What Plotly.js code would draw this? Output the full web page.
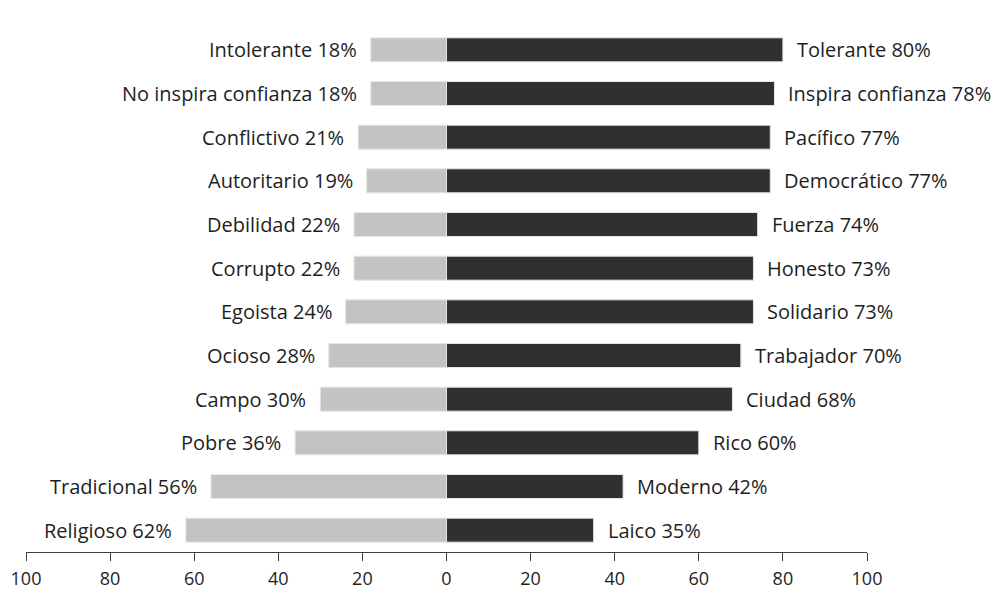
<!DOCTYPE html>
<html><head><meta charset="utf-8">
<script src="https://cdn.plot.ly/plotly-3.0.1.min.js"></script>
<style>body{margin:0;background:#fff}#c{width:995px;height:592px}</style>
</head><body><div id="c"></div>
<script>
const leftLabels = ["Intolerante","No inspira confianza","Conflictivo","Autoritario","Debilidad","Corrupto","Egoista","Ocioso","Campo","Pobre","Tradicional","Religioso"];
const leftValues = [18,18,21,19,22,22,24,28,30,36,56,62];
const rightLabels = ["Tolerante","Inspira confianza","Pacífico","Democrático","Fuerza","Honesto","Solidario","Trabajador","Ciudad","Rico","Moderno","Laico"];
const rightValues = [80,78,77,77,74,73,73,70,68,60,42,35];
const tickVals = [-100,-80,-60,-40,-20,0,20,40,60,80,100];
const tickText = ["100","80","60","40","20","0","20","40","60","80","100"];

const n = leftLabels.length;
const ys = leftLabels.map((_, i) => n - 1 - i);
const FONT = "'Open Sans', sans-serif";

const traces = [
  {type:'bar', orientation:'h', y: ys, x: leftValues.map(v => -v), width:0.55,
   marker:{color:'#c3c3c3', line:{color:'#e6e6e6', width:1}}, hoverinfo:'skip'},
  {type:'bar', orientation:'h', y: ys, x: rightValues, width:0.55,
   marker:{color:'#303030', line:{color:'#e6e6e6', width:1}}, hoverinfo:'skip'}
];

const annotations = [];
for (let i = 0; i < n; i++) {
  annotations.push({x: -leftValues[i], y: ys[i], xref:'x', yref:'y', text: leftLabels[i] + ' ' + leftValues[i] + '%',
    showarrow:false, xanchor:'right', yanchor:'middle', xshift:-12, font:{family:FONT, size:20, color:'#1e1e1e'}});
  annotations.push({x: rightValues[i], y: ys[i], xref:'x', yref:'y', text: rightLabels[i] + ' ' + rightValues[i] + '%',
    showarrow:false, xanchor:'left', yanchor:'middle', xshift:12, font:{family:FONT, size:20, color:'#1e1e1e'}});
}

const layout = {
  width:995, height:592, margin:{l:26, r:128, t:28, b:40},
  paper_bgcolor:'#fff', plot_bgcolor:'#fff', barmode:'overlay', showlegend:false,
  font:{family:FONT, size:18, color:'#1e1e1e'},
  xaxis:{range:[-100,100], tickvals:tickVals, ticktext:tickText, showgrid:false, zeroline:false,
    showline:true, linecolor:'#404040', linewidth:1, ticks:'outside', ticklen:8, tickcolor:'#404040',
    ticklabelstandoff:2,
    tickfont:{family:FONT, size:18, color:'#1e1e1e'}, fixedrange:true},
  yaxis:{range:[-0.5, n-0.5], showticklabels:false, showgrid:false, zeroline:false, showline:false, ticks:'', fixedrange:true},
  annotations: annotations
};
Plotly.newPlot('c', traces, layout, {staticPlot:true});
</script></body></html>
